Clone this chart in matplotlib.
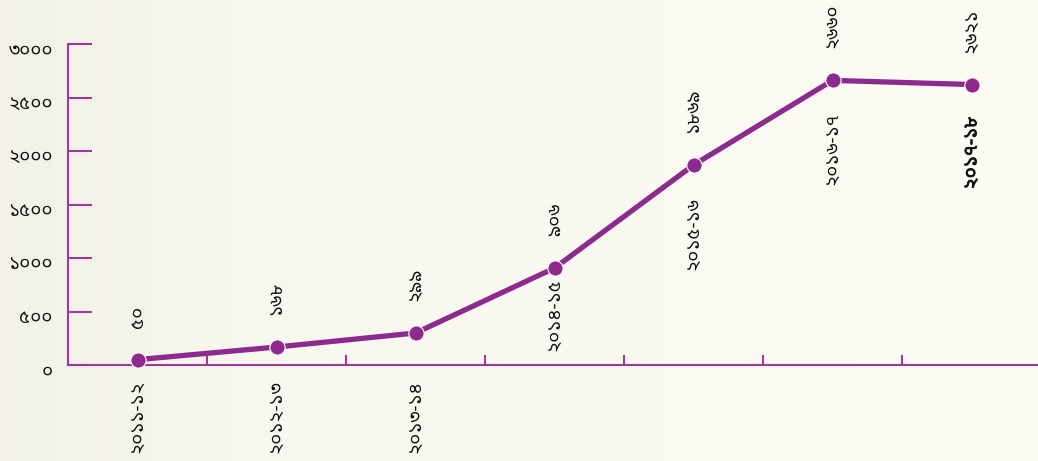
import matplotlib
matplotlib.use('Agg')
import matplotlib.pyplot as plt
import matplotlib.patheffects as pe
from matplotlib.transforms import ScaledTranslation
import numpy as np

# данные (বাংলা সংখ্যা)
categories = ['২০১১-১২', '২০১২-১৩', '২০১৩-১৪', '২০১৪-১৫', '২০১৫-১৬', '২০১৬-১৭', '২০১৭-১৮']
values = [50, 168, 299, 906, 1869, 2660, 2621]
value_labels = ['৫০', '১৬৮', '২৯৯', '৯০৬', '১৮৬৯', '২৬৬০', '২৬২১']
yticks = [0, 500, 1000, 1500, 2000, 2500, 3000]
ytick_labels = ['০', '৫০০', '১০০০', '১৫০০', '২০০০', '২৫০০', '৩০০০']

purple = '#8c2a8d'
axis_col = '#9a3a9a'
font = ['Noto Sans Bengali', 'Noto Serif Bengali', 'FreeSerif', 'DejaVu Sans']
fs = 13.5

fig = plt.figure(figsize=(10.38, 4.61), dpi=100)

# фон с лёгким градиентом
bg = fig.add_axes([0, 0, 1, 1], zorder=-10)
grad = np.linspace(0, 1, 256)
r = np.interp(grad, [0, 0.15, 0.25, 1], [0.953, 0.965, 0.975, 0.988])
g = np.interp(grad, [0, 0.15, 0.25, 1], [0.949, 0.961, 0.972, 0.988])
b = np.interp(grad, [0, 0.15, 0.25, 1], [0.914, 0.925, 0.94, 0.957])
img = np.dstack([r, g, b])
bg.imshow(np.repeat(img, 2, axis=0), aspect='auto', extent=[0, 1, 0, 1])
bg.axis('off')

ax = fig.add_axes([68 / 1038, 96 / 461, 973 / 1038, 321 / 461])
ax.patch.set_alpha(0)

x = np.arange(len(categories))
ax.plot(x, values, color=purple, lw=3.8, marker='o', markersize=11,
        markerfacecolor=purple, markeredgecolor='white', markeredgewidth=0.8,
        solid_capstyle='round', clip_on=False, zorder=3)

ax.set_xlim(-0.5, len(categories) - 0.5)
ax.set_ylim(0, 3000)

for s in ['top', 'right']:
    ax.spines[s].set_visible(False)
for s in ['left', 'bottom']:
    ax.spines[s].set_color(axis_col)
    ax.spines[s].set_linewidth(1.5)

ax.set_yticks(yticks)
ax.set_yticklabels(ytick_labels, fontfamily=font, fontsize=fs, color='#111111')
ax.tick_params(axis='y', direction='in', length=17, width=1.5, color=axis_col, pad=11)
for t in ax.get_yticklabels():
    t.set_transform(t.get_transform() + ScaledTranslation(0, -3 / 72, fig.dpi_scale_trans))

ax.set_xticks(x[:-1] + 0.5)
ax.set_xticklabels([])
ax.tick_params(axis='x', direction='in', length=7, width=1.5, color=axis_col)

# подписи значений над точками
for i, (v, lab) in enumerate(zip(values, value_labels)):
    ax.annotate(lab, (i, v), xytext=(0, 23), textcoords='offset points',
                rotation=90, ha='center', va='bottom', fontsize=fs,
                fontfamily=font, color='#111111', annotation_clip=False)

# подписи категорий: под точкой, если хватает места, иначе под осью
for i, (v, lab) in enumerate(zip(values, categories)):
    last = i == len(categories) - 1
    kw = dict(rotation=90, ha='center', va='top', fontsize=fs, color='#111111',
              fontfamily=font, annotation_clip=False)
    if last:
        kw['path_effects'] = [pe.withStroke(linewidth=0.6, foreground='#111111')]
    if v > 800:
        ax.annotate(lab, (i, max(v - 300, 813)), **kw)
    else:
        ax.annotate(lab, (i, 0), xytext=(0, -11), textcoords='offset points', **kw)

fig.savefig('out.png', dpi=100)
